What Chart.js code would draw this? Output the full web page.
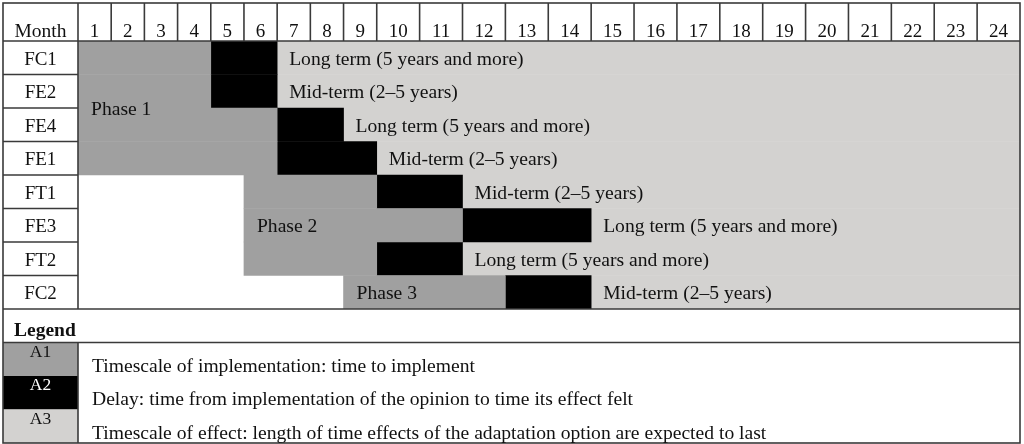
<!DOCTYPE html>
<html><head><meta charset="utf-8">
<style>html,body{margin:0;padding:0;background:#fff;} canvas{display:block;}</style>
</head><body>
<canvas id="c" width="1024" height="444"></canvas>
<script src="https://cdn.jsdelivr.net/npm/chart.js@4/dist/chart.umd.min.js"></script>
<script>
// ---------- data ----------
const months = ['1','2','3','4','5','6','7','8','9','10','11','12','13','14','15','16','17','18','19','20','21','22','23','24'];
const rows = ['FC1','FE2','FE4','FE1','FT1','FE3','FT2','FC2'];
const implStart   = [0, 0, 0, 0, 5, 5, 5, 8];
const delayStart  = [4, 4, 6, 6, 9, 11, 9, 12];
const effectStart = [6, 6, 8, 9, 11, 14, 11, 14];
const effectEnd   = [24, 24, 24, 24, 24, 24, 24, 24];
const effectLabels = [
  'Long term (5 years and more)', 'Mid-term (2–5 years)',
  'Long term (5 years and more)', 'Mid-term (2–5 years)',
  'Mid-term (2–5 years)', 'Long term (5 years and more)',
  'Long term (5 years and more)', 'Mid-term (2–5 years)'
];
const phaseNames = ['Phase 1', 'Phase 2', 'Phase 3'];
const phaseFirstRow = [0, 4, 7];
const phaseLastRow  = [3, 6, 7];
const legendTitle = 'Legend';
const headerTitle = 'Month';
const legendKeys = ['A1', 'A2', 'A3'];
const legendTexts = [
  'Timescale of implementation: time to implement',
  'Delay: time from implementation of the opinion to time its effect felt',
  'Timescale of effect: length of time effects of the adaptation option are expected to last'
];

// ---------- styles ----------
const COL_IMPL = '#a0a0a0';
const COL_DELAY = '#000000';
const COL_EFFECT = '#d3d2d0';
const LINE = '#3a3a3a';
const TXT = '#111111';
const SERIF = "'Liberation Serif', 'Times New Roman', serif";
const NARROW_COLS = 9;      // first months have narrower columns
const WIDE_RATIO = 1.292;   // width ratio of later month columns

// piecewise month scale (narrow single-digit columns, wider later ones)
class MonthScale extends Chart.LinearScale {
  static id = 'month';
  static defaults = {};
  _u(v) { return v <= NARROW_COLS ? v : NARROW_COLS + (v - NARROW_COLS) * WIDE_RATIO; }
  getPixelForValue(v) {
    const u0 = this._u(this.min), u1 = this._u(this.max);
    return this._startPixel + (this._u(v) - u0) / (u1 - u0) * this._length;
  }
  getValueForPixel(p) {
    const u0 = this._u(this.min), u1 = this._u(this.max);
    const u = u0 + (p - this._startPixel) / this._length * (u1 - u0);
    return u <= NARROW_COLS ? u : NARROW_COLS + (u - NARROW_COLS) / WIDE_RATIO;
  }
}
Chart.register(MonthScale);

const pairs = (a, b) => a.map((s, i) => [s, b[i]]);

const tablePlugin = {
  id: 'table',
  beforeDraw(chart) {
    const ctx = chart.ctx;
    ctx.save(); ctx.fillStyle = '#fff'; ctx.fillRect(0, 0, chart.width, chart.height); ctx.restore();
  },
  afterDatasetsDraw(chart) {
    const {ctx, scales: {x, y}} = chart;
    ctx.save();
    ctx.fillStyle = TXT;
    ctx.font = '19.6px ' + SERIF;
    ctx.textAlign = 'left';
    ctx.textBaseline = 'alphabetic';
    rows.forEach((r, i) => {
      ctx.fillText(effectLabels[i], x.getPixelForValue(effectStart[i]) + 12, y.getPixelForValue(i) + 7);
    });
    phaseNames.forEach((p, k) => {
      const yc = (y.getPixelForValue(phaseFirstRow[k]) + y.getPixelForValue(phaseLastRow[k])) / 2;
      ctx.fillText(p, x.getPixelForValue(implStart[phaseFirstRow[k]]) + 13, yc + 7);
    });
    ctx.restore();
  },
  afterDraw(chart) {
    const {ctx, chartArea: a, scales: {x, y}} = chart;
    const L = 3, T = 3;
    const R = x.getPixelForValue(24);
    const rowH = y.getPixelForValue(1) - y.getPixelForValue(0);
    const legTop = a.bottom + rowH;
    const B = legTop + rowH * legendKeys.length;
    ctx.save();
    // legend swatches
    const sw = [COL_IMPL, COL_DELAY, COL_EFFECT];
    legendKeys.forEach((k, i) => {
      ctx.fillStyle = sw[i];
      ctx.fillRect(L, legTop + i * rowH, a.left - L, rowH);
    });
    // lines
    ctx.strokeStyle = LINE;
    ctx.lineWidth = 1.6;
    const line = (x1, y1, x2, y2) => { ctx.beginPath(); ctx.moveTo(x1, y1); ctx.lineTo(x2, y2); ctx.stroke(); };
    for (let k = 1; k < months.length; k++) {
      const px = x.getPixelForValue(k);
      line(px, T, px, a.top);
    }
    line(L, a.top, R, a.top);
    line(L, a.bottom, R, a.bottom);
    line(L, legTop, R, legTop);
    line(a.left, T, a.left, a.bottom);
    line(a.left, legTop, a.left, B);
    for (let i = 1; i < rows.length; i++) {
      const py = (y.getPixelForValue(i - 1) + y.getPixelForValue(i)) / 2;
      line(L, py, a.left, py);
    }
    ctx.strokeRect(L, T, R - L, B - T);
    // header text
    ctx.fillStyle = TXT;
    ctx.textBaseline = 'alphabetic';
    ctx.textAlign = 'center';
    ctx.font = '19px ' + SERIF;
    months.forEach((m, k) => {
      const cx = (x.getPixelForValue(k) + x.getPixelForValue(k + 1)) / 2;
      ctx.fillText(m, cx, a.top - 4);
    });
    ctx.font = '19.5px ' + SERIF;
    ctx.fillText(headerTitle, (L + a.left) / 2, a.top - 4);
    // row labels
    ctx.font = '19px ' + SERIF;
    rows.forEach((r, i) => ctx.fillText(r, (L + a.left) / 2, y.getPixelForValue(i) + 7));
    // legend
    ctx.textAlign = 'left';
    ctx.font = 'bold 19.5px ' + SERIF;
    ctx.fillText(legendTitle, 14, a.bottom + rowH - 7);
    legendKeys.forEach((k, i) => {
      const top = legTop + i * rowH;
      ctx.textAlign = 'center';
      ctx.font = '17.5px ' + SERIF;
      ctx.fillStyle = i === 1 ? '#fff' : TXT;
      ctx.fillText(k, (L + a.left) / 2, top + 14);
      ctx.textAlign = 'left';
      ctx.font = '19.6px ' + SERIF;
      ctx.fillStyle = TXT;
      ctx.fillText(legendTexts[i], a.left + 14, top + 29);
    });
    ctx.restore();
  }
};

const common = { grouped: false, barPercentage: 1, categoryPercentage: 1, borderWidth: 0, borderSkipped: false };

new Chart(document.getElementById('c'), {
  type: 'bar',
  data: {
    labels: rows,
    datasets: [
      Object.assign({ label: 'A1', data: pairs(implStart, delayStart), backgroundColor: COL_IMPL }, common),
      Object.assign({ label: 'A2', data: pairs(delayStart, effectStart), backgroundColor: COL_DELAY }, common),
      Object.assign({ label: 'A3', data: pairs(effectStart, effectEnd), backgroundColor: COL_EFFECT }, common)
    ]
  },
  options: {
    indexAxis: 'y',
    responsive: false,
    animation: false,
    devicePixelRatio: 1,
    layout: { padding: { left: 78, top: 41, right: 4, bottom: 135 } },
    scales: {
      x: { type: 'month', min: 0, max: 24, display: false },
      y: { type: 'category', display: false, offset: true }
    },
    plugins: { legend: { display: false }, tooltip: { enabled: false } }
  },
  plugins: [tablePlugin]
});
</script>
</body></html>
